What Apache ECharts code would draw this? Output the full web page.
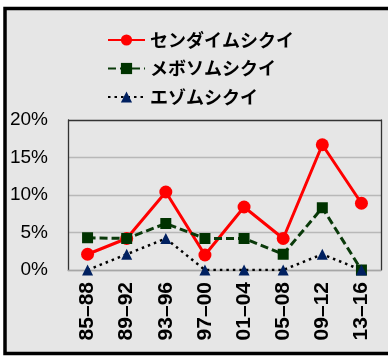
<!DOCTYPE html>
<html><head><meta charset="utf-8">
<script src="https://cdn.jsdelivr.net/npm/echarts@6/dist/echarts.min.js"></script>
<style>html,body{margin:0;padding:0;background:#fff}#c{width:388px;height:356px}</style>
</head><body><div id="c"></div>
<script>
const categories = ['85–88','89–92','93–96','97–00','01–04','05–08','09–12','13–16'];
const seriesNames = ['センダイムシクイ','メボソムシクイ','エゾムシクイ'];
const sendai = [2.1, 4.2, 10.4, 2.0, 8.4, 4.2, 16.7, 8.9];
const mebosou = [4.3, 4.2, 6.2, 4.2, 4.2, 2.1, 8.3, 0];
const ezo = [0, 2.1, 4.2, 0, 0, 0, 2.1, 0];
const yTicks = [0, 5, 10, 15, 20];

const chart = echarts.init(document.getElementById('c'), null, {renderer:'canvas'});
const numFont = '"Liberation Sans", Arial, sans-serif';
const jpFont = '"Noto Sans CJK JP", sans-serif';
chart.setOption({
  animation:false,
  backgroundColor:'#fff',
  graphic:[{type:'rect', z:-10, silent:true, shape:{x:5,y:8.5,width:400,height:345},
    style:{fill:'#e6e6e6', stroke:'#000', lineWidth:3.5}}],
  legend:{
    orient:'vertical', left:102, top:26, itemWidth:37, itemHeight:14, itemGap:10.5,
    textStyle:{fontFamily:jpFont, fontWeight:'bold', fontSize:18, color:'#000'},
    data:seriesNames
  },
  grid:{left:68, top:120, right:7, bottom:86, containLabel:false},
  xAxis:{type:'category', data:categories, boundaryGap:true,
    axisLine:{show:true, lineStyle:{color:'#a6a6a6', width:1.3}},
    axisTick:{show:false},
    axisLabel:{rotate:90, margin:12, fontFamily:numFont, fontWeight:'bold', fontSize:21, color:'#000'}
  },
  yAxis:[{type:'value', min:yTicks[0], max:yTicks[yTicks.length-1], interval:5,
    axisLine:{show:true, lineStyle:{color:'#333', width:1.3}},
    axisTick:{show:false},
    axisLabel:{formatter:'{value}%', margin:20, fontFamily:numFont, fontSize:19, color:'#000'},
    splitLine:{show:true, lineStyle:{color:['#b8b8b8','#b8b8b8','#b8b8b8','#b8b8b8','#333'], width:1.3}}
  },{type:'value', min:yTicks[0], max:yTicks[yTicks.length-1], interval:5, position:'right',
    axisLine:{show:true, lineStyle:{color:'#333', width:1.3}},
    axisTick:{show:false}, axisLabel:{show:false}, splitLine:{show:false}
  }],
  series:[
    {name:seriesNames[0], type:'line', data:sendai, symbol:'circle', symbolSize:13,
      lineStyle:{color:'#ff0000', width:3}, itemStyle:{color:'#ff0000'}},
    {name:seriesNames[1], type:'line', data:mebosou, symbol:'rect', symbolSize:11,
      lineStyle:{color:'#0a3a0a', width:3, type:[8,4]}, itemStyle:{color:'#003300'}},
    {name:seriesNames[2], type:'line', data:ezo, symbol:'triangle', symbolSize:11,
      lineStyle:{color:'#000', width:2.5, type:[2.5,4]}, itemStyle:{color:'#002060'}}
  ]
});
</script></body></html>
